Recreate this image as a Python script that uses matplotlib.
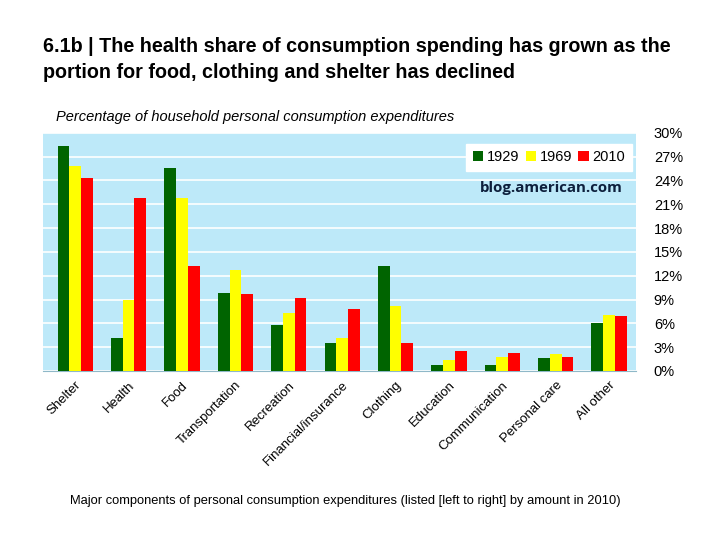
import numpy as np
import matplotlib.pyplot as plt
from matplotlib.ticker import FuncFormatter

# Daten
categories = ['Shelter', 'Health', 'Food', 'Transportation', 'Recreation',
              'Financial/insurance', 'Clothing', 'Education', 'Communication',
              'Personal care', 'All other']
share_1929 = [28.3, 4.2, 25.6, 9.8, 5.8, 3.5, 13.2, 0.7, 0.8, 1.6, 6.1]
share_1969 = [25.8, 9.0, 21.8, 12.7, 7.3, 4.1, 8.2, 1.4, 1.8, 2.1, 7.1]
share_2010 = [24.3, 21.8, 13.2, 9.7, 9.2, 7.8, 3.5, 2.5, 2.3, 1.8, 6.9]
years = ['1929', '1969', '2010']
y_ticks = [0, 3, 6, 9, 12, 15, 18, 21, 24, 27, 30]

plt.rcParams['font.family'] = ['Liberation Sans', 'DejaVu Sans']

fig = plt.figure(figsize=(7.2, 5.4), dpi=100, facecolor='white')
ax = fig.add_axes([0.06, 0.313, 0.823, 0.441])
ax.set_facecolor('#bde9f9')

x = np.arange(len(categories))
w = 0.22
colors = ['#006400', '#ffff00', '#ff0000']
for i, (vals, col, lab) in enumerate(zip([share_1929, share_1969, share_2010], colors, years)):
    ax.bar(x + (i - 1) * w, vals, width=w, color=col, label=lab, zorder=3)

ax.set_ylim(0, 30)
ax.set_xlim(-0.6, 10.5)
ax.set_yticks(y_ticks)
ax.yaxis.set_major_formatter(FuncFormatter(lambda v, p: '%d%%' % v))
ax.yaxis.tick_right()
ax.tick_params(axis='y', length=0, labelsize=10.5, pad=13)
ax.tick_params(axis='x', length=0, labelsize=9.5, pad=6)
ax.grid(axis='y', color='white', linewidth=1.2, zorder=1)
ax.set_xticks(x)
ax.set_xticklabels(categories, rotation=45, ha='right', rotation_mode='anchor')
for s in ['top', 'right', 'left']:
    ax.spines[s].set_visible(False)
ax.spines['bottom'].set_color('#8fb8c8')

leg = ax.legend(loc='upper right', bbox_to_anchor=(0.993, 0.955), ncol=3, frameon=True,
                fancybox=False, edgecolor='white', framealpha=1, fontsize=10.5,
                handlelength=0.7, handleheight=0.7, handletextpad=0.25, columnspacing=0.45,
                borderpad=0.45, borderaxespad=0)

ax.text(0.978, 0.769, 'blog.american.com', transform=ax.transAxes, ha='right', va='center',
        fontsize=10.8, fontweight='bold', color='#0d1f3c', family=['Open Sans', 'DejaVu Sans'])

fig.text(0.06, 0.89, '6.1b | The health share of consumption spending has grown as the\n'
         'portion for food, clothing and shelter has declined',
         ha='left', va='center', fontsize=14.2, fontweight='bold', linespacing=1.42)
fig.text(0.078, 0.783, 'Percentage of household personal consumption expenditures',
         ha='left', va='center', fontsize=10.5, style='italic')
fig.text(0.48, 0.073, 'Major components of personal consumption expenditures (listed [left to right] by amount in 2010)',
         ha='center', va='center', fontsize=9.3)

plt.savefig('out.png', dpi=100, facecolor='white')
